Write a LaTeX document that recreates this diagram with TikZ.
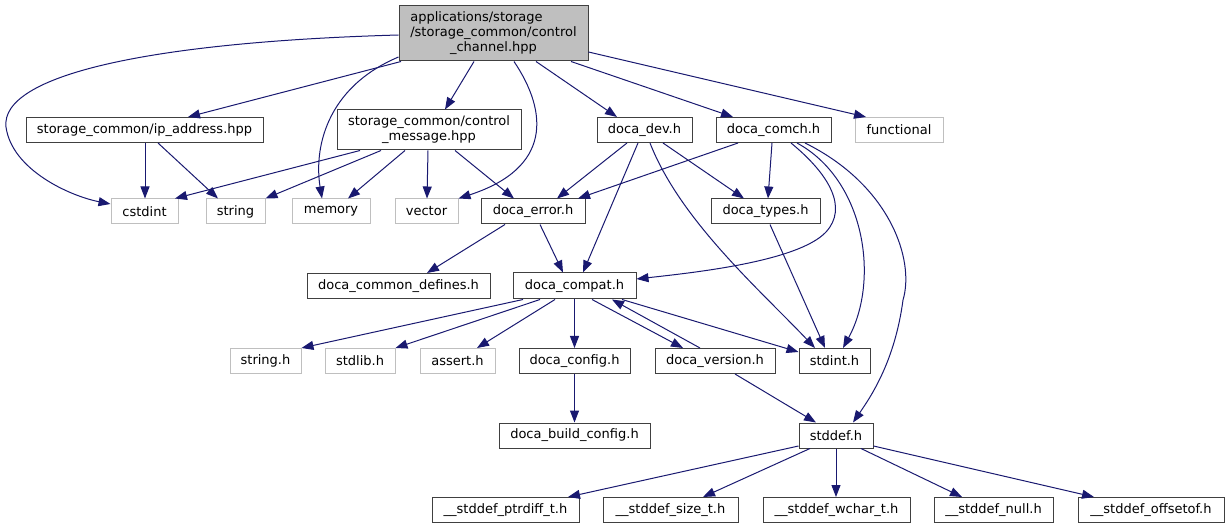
\documentclass[tikz,border=0pt]{standalone}
\usepackage{fontspec}
\setmainfont{DejaVu Sans}
\usetikzlibrary{arrows.meta}
\definecolor{edgecol}{HTML}{191970}
\definecolor{darkb}{HTML}{404040}
\definecolor{lightb}{HTML}{BFBFBF}
\begin{document}
\begin{tikzpicture}[x=1pt,y=-1pt,
 nb/.style={draw=darkb, line width=1pt, inner sep=0pt, minimum height=25pt, font=\fontsize{13}{15}\selectfont, align=center},
 gb/.style={nb, draw=lightb},
 conn/.style={draw=edgecol, line width=1pt, -{Triangle[length=12pt,width=9pt]}}]
\useasboundingbox (0,0) rectangle (1229,529);
% row 1
\node[nb, fill=lightb, minimum width=189, minimum height=55] (main) at (493.5,33.5)
 {\rlap{applications/storage}\phantom{/storage\_common/control}\\/storage\_common/control\\\_channel.hpp};
% row 2
\node[nb, minimum width=237] (ip) at (144.5,130) {storage\_common/ip\_address.hpp};
\node[nb, minimum width=184, minimum height=40] (cm) at (429,130) {storage\_common/control\\\_message.hpp};
\node[nb, minimum width=95] (dev) at (644.5,130) {doca\_dev.h};
\node[nb, minimum width=115] (comch) at (773.5,130) {doca\_comch.h};
\node[gb, minimum width=88] (functional) at (899,130) {functional};
% row 3
\node[gb, minimum width=67] (cstdint) at (144.5,211.5) {cstdint};
\node[gb, minimum width=59] (string) at (235.5,211.5) {string};
\node[gb, minimum width=78] (memory) at (331,211.5) {memory};
\node[gb, minimum width=63] (vector) at (426.5,211.5) {vector};
\node[nb, minimum width=104] (error) at (533,211.5) {doca\_error.h};
\node[nb, minimum width=109] (types) at (765.5,211.5) {doca\_types.h};
% row 4
\node[nb, minimum width=183] (defines) at (398.5,286) {doca\_common\_defines.h};
\node[nb, minimum width=123, minimum height=26] (compat) at (574.5,286) {doca\_compat.h};
% row 5
\node[gb, minimum width=71] (stringh) at (265.5,361) {string.h};
\node[gb, minimum width=70] (stdlib) at (360,361) {stdlib.h};
\node[gb, minimum width=75] (assert) at (457.5,361) {assert.h};
\node[nb, minimum width=111] (config) at (574.5,361) {doca\_config.h};
\node[nb, minimum width=120] (version) at (715,361) {doca\_version.h};
\node[nb, minimum width=71] (stdint) at (834.5,361) {stdint.h};
% row 6
\node[nb, minimum width=151] (build) at (574.5,435.5) {doca\_build\_config.h};
\node[nb, minimum width=74] (stddef) at (836,435.5) {stddef.h};
% row 7
\node[nb, minimum width=147] (ptrdiff) at (505.5,510) {\_\_stddef\_ptrdiff\_t.h};
\node[nb, minimum width=135] (sizet) at (670.5,510) {\_\_stddef\_size\_t.h};
\node[nb, minimum width=147] (wchar) at (836.5,510) {\_\_stddef\_wchar\_t.h};
\node[nb, minimum width=119] (null) at (993.5,510) {\_\_stddef\_null.h};
\node[nb, minimum width=146] (offsetof) at (1151,510) {\_\_stddef\_offsetof.h};

% edges from main
\draw[conn] (main.west |- 0,35) .. controls (150,42) and (0,75) .. (6,127) .. controls (12,170) and (70,196) .. (cstdint.west |- 0,204);
\draw[conn] (main.south -| 401,0) -- (ip.north -| 188,0);
\draw[conn] (main.west |- 0,57) .. controls (325,88) and (314,150) .. (memory.north -| 322,0);
\draw[conn] (main.south -| 474,0) -- (cm.north -| 445,0);
\draw[conn] (main.south -| 514,0) .. controls (548,112) and (552,168) .. (vector.north east);
\draw[conn] (main.south -| 536,0) -- (dev.north -| 617,0);
\draw[conn] (main.south -| 571,0) -- (comch.north -| 733,0);
\draw[conn] (main.east |- 0,52) -- (functional.north -| 866,0);
% ip
\draw[conn] (ip.south -| 145,0) -- (cstdint.north -| 145,0);
\draw[conn] (ip.south -| 158,0) -- (string.north -| 218,0);
% control message
\draw[conn] (cm.south -| 360,0) -- (cstdint.north -| 175,0);
\draw[conn] (cm.south -| 381,0) -- (string.north east);
\draw[conn] (cm.south -| 405,0) -- (memory.north -| 348,0);
\draw[conn] (cm.south -| 428,0) -- (vector.north -| 427,0);
\draw[conn] (cm.south -| 455,0) -- (error.north -| 514,0);
% dev
\draw[conn] (dev.south -| 627,0) -- (error.north -| 557,0);
\draw[conn] (dev.south -| 638,0) -- (compat.north -| 583,0);
\draw[conn] (dev.south -| 650,0) .. controls (680,220) and (760,290) .. (stdint.north -| 815,0);
\draw[conn] (dev.south -| 663,0) -- (types.north -| 744,0);
% comch
\draw[conn] (comch.south -| 738,0) -- (error.north -| 578,0);
\draw[conn] (comch.south -| 772,0) -- (types.north -| 768,0);
\draw[conn] (comch.south -| 791,0) .. controls (830,175) and (848,208) .. (826,232) .. controls (798,262) and (690,273) .. (compat.east |- 0,279);
\draw[conn] (comch.south -| 797,0) .. controls (865,180) and (880,280) .. (stdint.north -| 843,0);
\draw[conn] (comch.south -| 805,0) .. controls (890,185) and (915,260) .. (903,300) .. controls (895,360) and (872,395) .. (stddef.north -| 853,0);
% error
\draw[conn] (error.south -| 505,0) -- (defines.north -| 427,0);
\draw[conn] (error.south -| 540,0) -- (compat.north -| 563,0);
% types
\draw[conn] (types.south -| 770,0) -- (stdint.north -| 825,0);
% compat
\draw[conn] (compat.south -| 523,0) -- (stringh.north east);
\draw[conn] (compat.south -| 540,0) -- (stdlib.north east);
\draw[conn] (compat.south -| 555,0) -- (assert.north -| 477,0);
\draw[conn] (compat.south) -- (config.north);
\draw[conn] (compat.south -| 592,0) -- (version.north -| 683,0);
\draw[conn] (version.north -| 700,0) -- (compat.south -| 612,0);
\draw[conn] (compat.south -| 622,0) -- (stdint.west |- 0,352);
% config, version
\draw[conn] (config.south) -- (build.north);
\draw[conn] (version.south -| 735,0) -- (stddef.north -| 816,0);
% stddef
\draw[conn] (stddef.west |- 0,446) -- (ptrdiff.north -| 568,0);
\draw[conn] (stddef.south -| 810,0) -- (sizet.north -| 703,0);
\draw[conn] (stddef.south -| 836,0) -- (wchar.north -| 836,0);
\draw[conn] (stddef.south -| 861,0) -- (null.north -| 962,0);
\draw[conn] (stddef.east |- 0,446) -- (offsetof.north -| 1094,0);
\end{tikzpicture}
\end{document}
